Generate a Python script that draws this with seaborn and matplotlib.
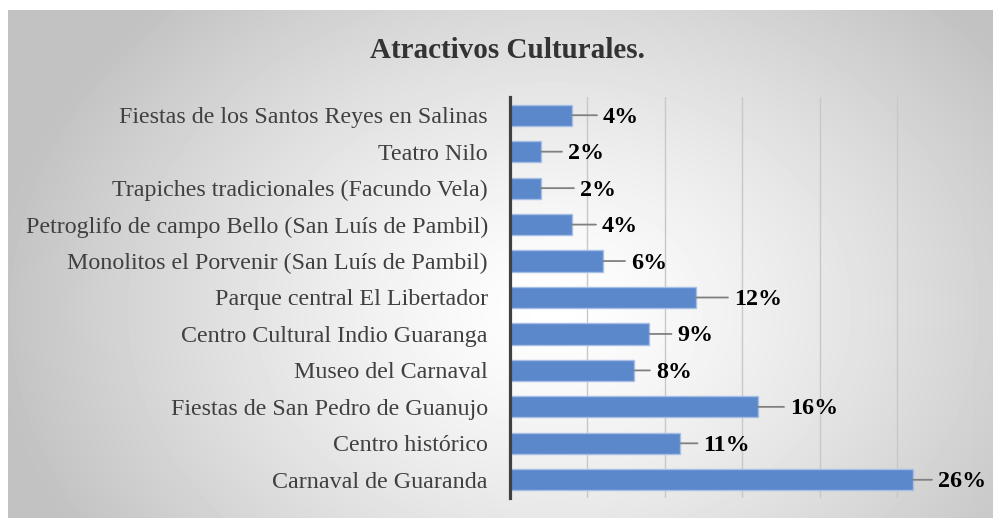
import numpy as np
import matplotlib
matplotlib.use("Agg")
import matplotlib.pyplot as plt
import seaborn as sns
import pandas as pd

categories = [
    "Fiestas de los Santos Reyes en Salinas",
    "Teatro Nilo",
    "Trapiches tradicionales (Facundo Vela)",
    "Petroglifo de campo Bello (San Luís de Pambil)",
    "Monolitos el Porvenir (San Luís de Pambil)",
    "Parque central El Libertador",
    "Centro Cultural Indio Guaranga",
    "Museo del Carnaval",
    "Fiestas de San Pedro de Guanujo",
    "Centro histórico",
    "Carnaval de Guaranda",
]
values = [4, 2, 2, 4, 6, 12, 9, 8, 16, 11, 26]
value_labels = ["4%", "2%", "2%", "4%", "6%", "12%", "9%", "8%", "16%", "11%", "26%"]
title = "Atractivos Culturales."

# label placement (pixels from bar end), style only
label_offsets_px = [31, 27, 39, 30, 28, 38, 28, 22, 32, 23, 25]

sns.set_theme(style="white")
plt.rcParams["font.family"] = ["Liberation Serif", "DejaVu Serif"]

FW, FH = 995, 520
fig = plt.figure(figsize=(FW / 100, FH / 100), dpi=100)
fig.patch.set_facecolor("white")

# background gradient panel
x0, y0, W, H = 8, 10, 985, 508
bg = fig.add_axes([x0 / FW, 1 - (y0 + H) / FH, W / FW, H / FH], zorder=0)
yy, xx = np.mgrid[0:H, 0:W]
cx, cy = 545, 300
d = np.sqrt(((xx - cx) / 560.0) ** 2 + ((yy - cy) / 430.0) ** 2)
v = 1 - 0.24 * np.clip(d, 0, 1) ** 1.3
bg.imshow(v, cmap="gray", vmin=0, vmax=1, aspect="auto", interpolation="bilinear")
bg.set_axis_off()

# main axes
L, R, T, B = 510, 975, 97, 498
ax = fig.add_axes([L / FW, 1 - B / FH, (R - L) / FW, (B - T) / FH], zorder=1)
ax.patch.set_alpha(0)

df = pd.DataFrame({"Atractivo": categories, "Porcentaje": values})
sns.barplot(data=df, x="Porcentaje", y="Atractivo", orient="h", color="#5b87cb",
            saturation=1, width=0.58, edgecolor="#a7bfe6", linewidth=1.0, ax=ax)

ax.set_xlim(0, 30)
ax.set_ylim(len(categories) - 0.5, -0.5)
ax.set_xticks(np.arange(0, 31, 5))
ax.set_xticklabels([])
ax.tick_params(axis="x", length=0)
ax.tick_params(axis="y", length=0, pad=16, labelsize=17.3, labelcolor="#404040")
ax.grid(axis="x", color="#c8c8c8", linewidth=1.0)
ax.grid(axis="y", visible=False)
ax.set_axisbelow(True)
ax.set_xlabel("")
ax.set_ylabel("")
for s in ["top", "right", "bottom"]:
    ax.spines[s].set_visible(False)
ax.spines["left"].set_color("#404040")
ax.spines["left"].set_linewidth(2.3)
ax.spines["left"].set_zorder(5)

for i, (val, lab, off) in enumerate(zip(values, value_labels, label_offsets_px)):
    ax.annotate("", xy=(val, i), xycoords="data", xytext=(off - 6, 0),
                textcoords="offset pixels",
                arrowprops=dict(arrowstyle="-", color="#808080", lw=1.3,
                                shrinkA=0, shrinkB=0))
    ax.annotate(lab, xy=(val, i), xycoords="data", xytext=(off, -2),
                textcoords="offset pixels", ha="left", va="center",
                fontsize=17.3, fontweight="bold", color="black")

fig.text(507 / FW, 1 - 50 / FH, title, ha="center", va="center",
         fontsize=21, fontweight="bold", color="#333333")

fig.savefig("out.png", dpi=100)
